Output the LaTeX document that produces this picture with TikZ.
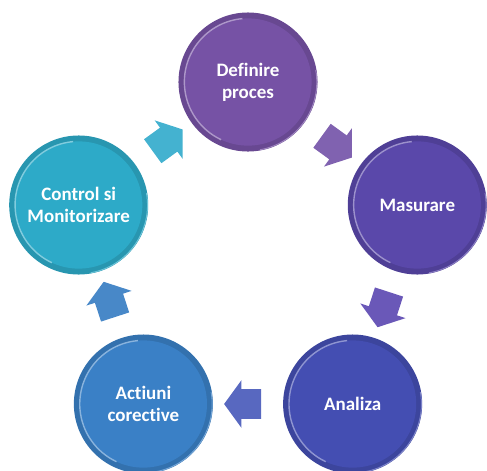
\documentclass[tikz,border=0pt]{standalone}
\usepackage{fontspec}
\setmainfont{Carlito}[Ligatures=NoCommon]
\usetikzlibrary{shapes.arrows}

\definecolor{cdef}{RGB}{118,82,165}
\definecolor{cmas}{RGB}{90,72,170}
\definecolor{cana}{RGB}{68,78,178}
\definecolor{cact}{RGB}{58,128,198}
\definecolor{cctl}{RGB}{45,170,200}
\definecolor{adef}{RGB}{128,98,176}
\definecolor{amas}{RGB}{106,88,184}
\definecolor{aana}{RGB}{88,104,192}
\definecolor{aact}{RGB}{72,136,200}
\definecolor{actl}{RGB}{68,178,208}

\begin{document}
\begin{tikzpicture}[x=0.025cm, y=0.025cm,
  stage/.style={circle, minimum size=3.475cm, inner sep=0pt, fill=#1!88!black,
    text=white, align=center, font=\fontsize{13.5}{15.5}\selectfont\bfseries,
    path picture={
      \fill[#1] (path picture bounding box.center) circle (1.59cm);
      \draw[#1!60!white, line width=1pt] ([shift={(95:1.59cm)}]path picture bounding box.center) arc (95:245:1.59cm);
      \draw[#1!70!white, line width=.7pt] ([shift={(-80:1.72cm)}]path picture bounding box.center) arc (-80:10:1.72cm);
    }},
  flow/.style={single arrow, fill=#1, inner xsep=0pt, inner ysep=0.3625cm,
    single arrow head extend=0.225cm, single arrow tip angle=108,
    minimum height=0.925cm, midway, sloped, allow upside down}]
\useasboundingbox (-248,-210) rectangle (239,260);

% circles of the cycle
\node[stage=cdef] (def) at (90:178) {Definire\\proces};
\node[stage=cmas] (mas) at (18:178) {Masurare};
\node[stage=cana] (ana) at (-54:178) {Analiza};
\node[stage=cact] (act) at (-126:178) {Actiuni\\corective};
\node[stage=cctl] (ctl) at (162:178) {Control si\\Monitorizare};

% block arrows
\path (def) -- (mas) node[flow=adef] (def-mas) {};
\path (mas) -- (ana) node[flow=amas] (mas-ana) {};
\path (ana) -- (act) node[flow=aana] (ana-act) {};
\path (act) -- (ctl) node[flow=aact] (act-ctl) {};
\path (ctl) -- (def) node[flow=actl] (ctl-def) {};
\end{tikzpicture}
\end{document}
